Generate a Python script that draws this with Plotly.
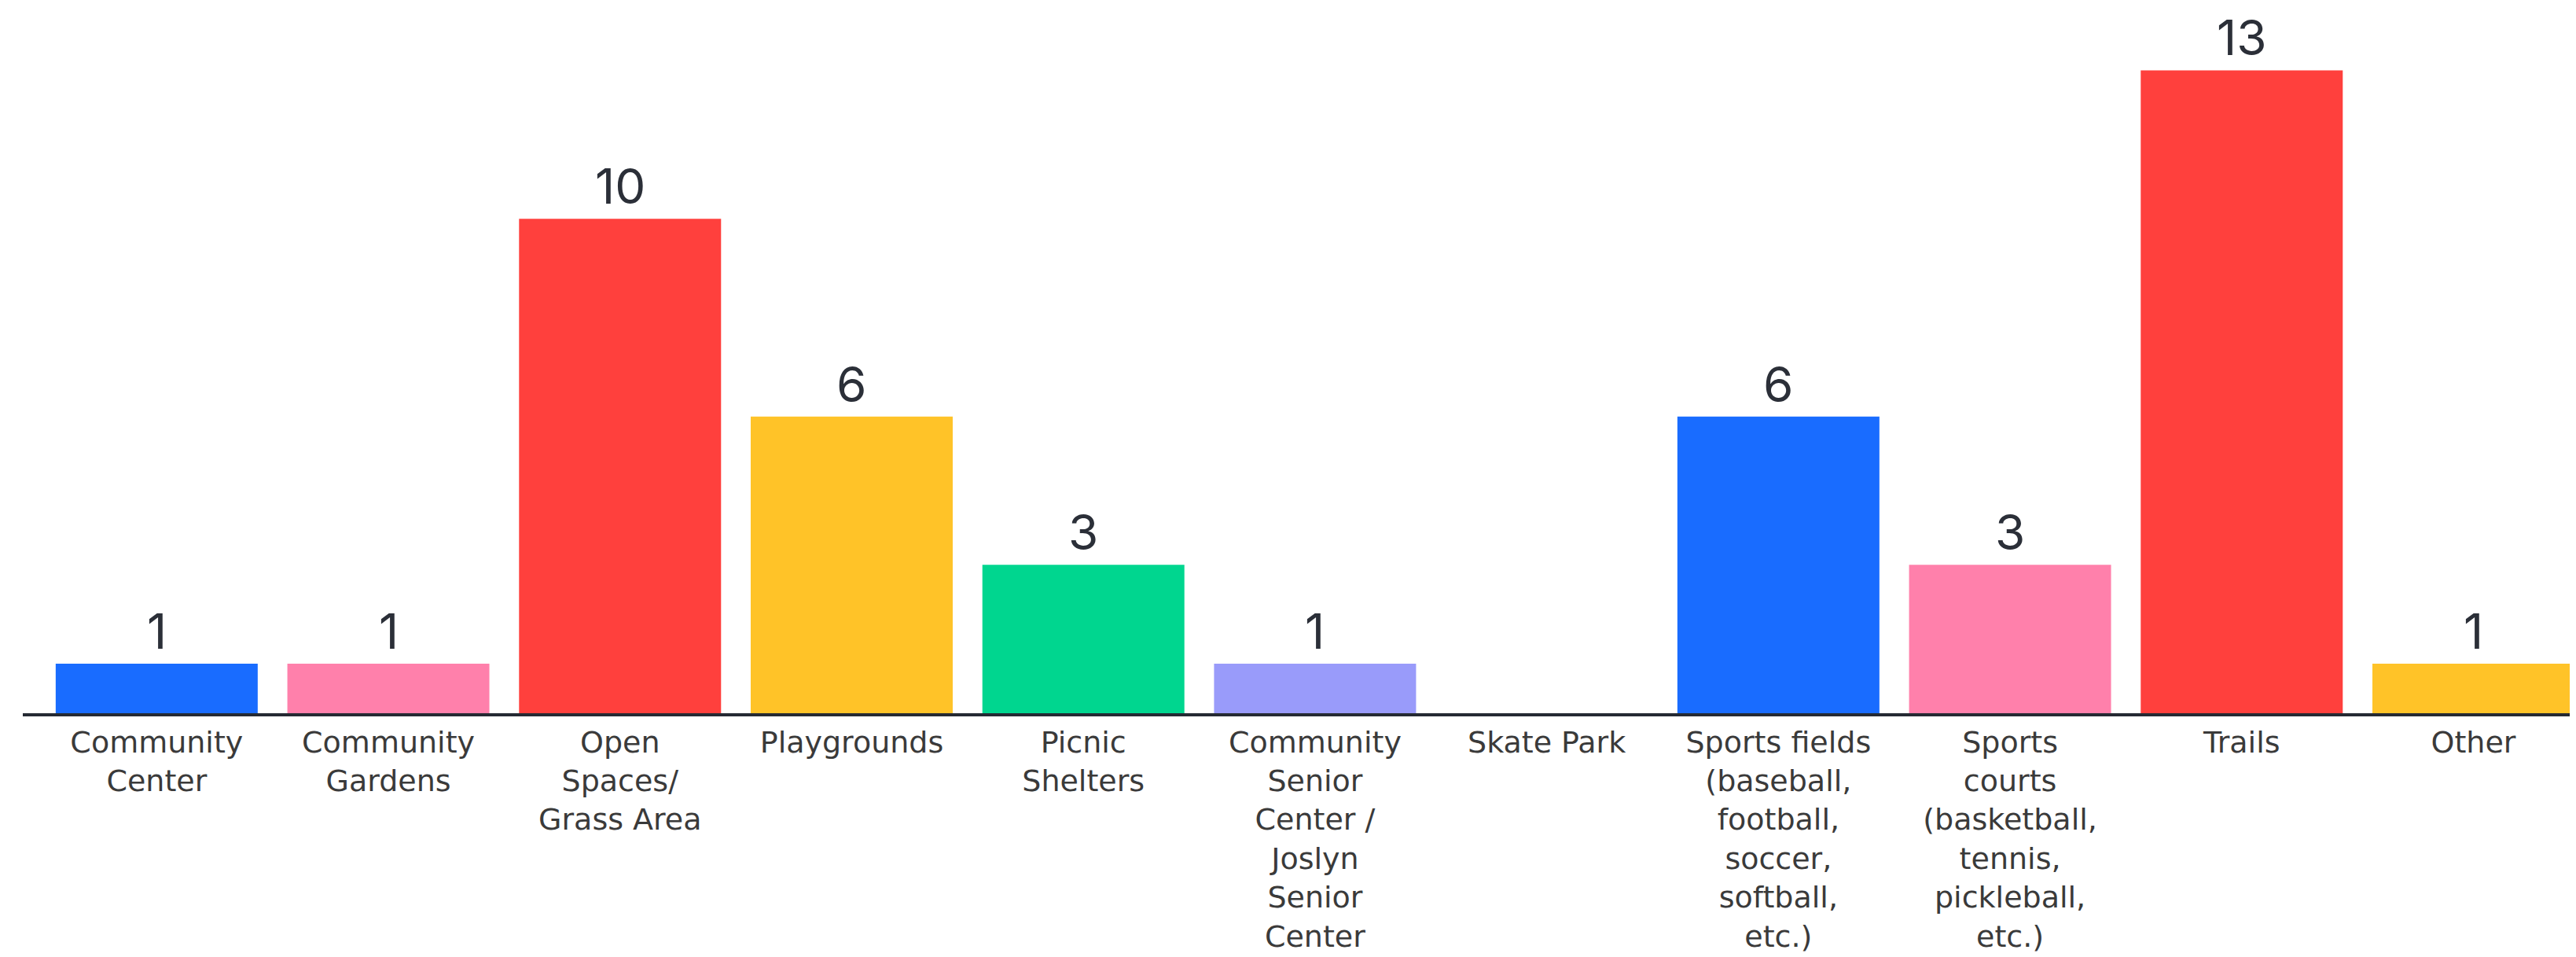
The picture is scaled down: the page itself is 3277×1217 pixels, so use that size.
import plotly.graph_objects as go

categories = [
    "Community<br>Center",
    "Community<br>Gardens",
    "Open<br>Spaces/<br>Grass Area",
    "Playgrounds",
    "Picnic<br>Shelters",
    "Community<br>Senior<br>Center /<br>Joslyn<br>Senior<br>Center",
    "Skate Park",
    "Sports fields<br>(baseball,<br>football,<br>soccer,<br>softball,<br>etc.)",
    "Sports<br>courts<br>(basketball,<br>tennis,<br>pickleball,<br>etc.)",
    "Trails",
    "Other",
]
values = [1, 1, 10, 6, 3, 1, 0, 6, 3, 13, 1]
colors = ["#196CFF", "#FF80AB", "#FF403D", "#FFC328", "#00D68F", "#999BFA",
          "#196CFF", "#196CFF", "#FF80AB", "#FF403D", "#FFC328"]

xs = list(range(len(categories)))

fig = go.Figure(go.Bar(
    x=xs,
    y=values,
    marker=dict(color=colors, line=dict(width=0)),
    width=0.872,
    hoverinfo="x+y",
))

for i, v in zip(xs, values):
    if v:
        fig.add_annotation(
            x=i, y=v, xref="x", yref="y",
            text=str(v), showarrow=False,
            yanchor="bottom", yshift=3, borderpad=0,
            font=dict(size=62, color="#2B2F38", family="Inter, Roboto, sans-serif"),
        )

fig.update_layout(
    width=3277, height=1217,
    margin=dict(l=21, r=0, t=6, b=318),
    paper_bgcolor="white", plot_bgcolor="white",
    showlegend=False,
    font=dict(family="DejaVu Sans, sans-serif", color="#3A3A3A"),
)
fig.update_xaxes(
    range=[-0.578, 10.47],
    tickmode="array",
    tickvals=xs,
    ticktext=categories,
    tickfont=dict(size=38, color="#3A3A3A", family="DejaVu Sans, sans-serif"),
    showgrid=False, zeroline=False,
    showline=True, linecolor="#252A33", linewidth=4,
    ticks="", ticklabelstandoff=0,
)
fig.update_yaxes(
    range=[0, 14.2],
    visible=False, showgrid=False, zeroline=False,
)

fig.write_html("out.html")
